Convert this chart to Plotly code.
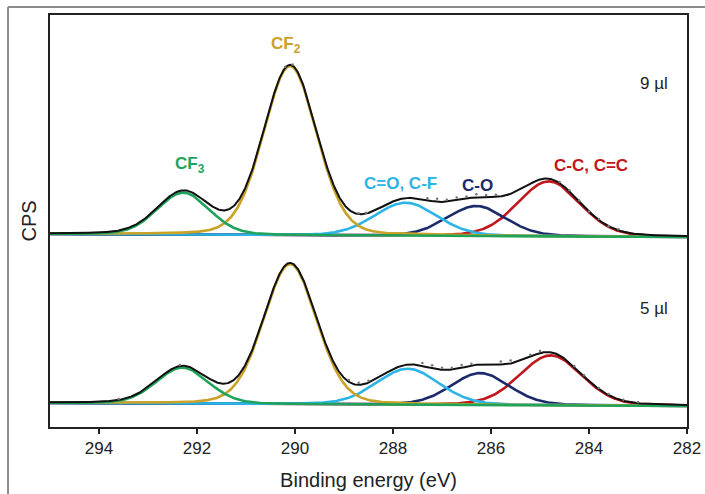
import numpy as np
import plotly.graph_objects as go

# ---------------- data ----------------
components = ["CF3", "CF2", "C=O, C-F", "C-O", "C-C, C=C"]
comp_colors = ["#1fa35a", "#c9a227", "#2cb4e6", "#1b2a6b", "#c2161d"]
label_texts = ["CF<sub>3</sub>", "CF<sub>2</sub>", "C=O, C-F", "C-O", "C-C, C=C"]

# peak centres (eV), heights (a.u.), FWHM (eV), Lorentzian fraction
top_centers = [292.28, 290.10, 287.74, 286.30, 284.82]
top_heights = [42, 169, 33, 30, 55]
bot_centers = [292.30, 290.10, 287.70, 286.22, 284.78]
bot_heights = [36, 140, 36, 32, 50]
fwhm = [1.25, 1.28, 1.50, 1.40, 1.50]
lor_frac = [0.15, 0.15, 0.15, 0.15, 0.15]

# background level at 295 eV and at 282 eV
top_bg = [193, 190]
bot_bg = [24, 21]

# raw data points shown as residuals relative to the fit (energy, offset)
raw_top_e = [290.2, 290.05, 288.7, 288.55, 287.3, 287.1, 286.9, 286.7, 286.5, 286.3, 286.1, 285.9,
             284.6, 284.4, 284.2, 284.0, 283.8, 283.6, 283.4]
raw_top_off = [1, 1, 1, 1, 2, 3, 2, 3, 2, 3, 2, 2, 1, 1, 1, 0, 1, 0, 1]
raw_bot_e = [293.6, 292.35, 288.9, 288.7, 288.5, 287.4, 287.2, 287.0, 286.8, 286.6, 286.4, 285.8,
             285.6, 285.2, 285.0, 284.3, 284.1, 283.8, 283.6, 283.3, 283.0]
raw_bot_off = [1, 1, 2, 2, 2, 3, 3, 2, 2, 3, 2, 3, 3, 2, 2, 1, 1, 1, 1, 1, 1]

sample_labels = ["9 µl", "5 µl"]
x_ticks = [294, 292, 290, 288, 286, 284, 282]

# ---------------- build curves ----------------
E = np.linspace(282, 295, 1301)


def peak(e, c, h, w, m):
    d2 = 4 * (e - c) ** 2 / w ** 2
    return h * ((1 - m) * np.exp(-np.log(2) * d2) + m / (1 + d2))


def background(e, bg):
    return bg[1] + (bg[0] - bg[1]) * (e - 282) / 13.0


fig = go.Figure()

draw_order = [4, 3, 2, 1, 0]
for centers, heights, bg, re, ro in [
    (top_centers, top_heights, top_bg, raw_top_e, raw_top_off),
    (bot_centers, bot_heights, bot_bg, raw_bot_e, raw_bot_off),
]:
    base = background(E, bg)
    comps = [peak(E, centers[i], heights[i], fwhm[i], lor_frac[i]) for i in range(5)]
    for i in draw_order:
        fig.add_trace(go.Scatter(x=E, y=base + comps[i], mode="lines",
                                 line=dict(color=comp_colors[i], width=2.6),
                                 hoverinfo="skip", showlegend=False))
    env = base + sum(comps)
    fig.add_trace(go.Scatter(x=E, y=env, mode="lines",
                             line=dict(color="#111111", width=2),
                             hoverinfo="skip", showlegend=False))
    re_arr = np.array(re)
    raw_y = background(re_arr, bg) + sum(
        peak(re_arr, centers[i], heights[i], fwhm[i], lor_frac[i]) for i in range(5)) + np.array(ro)
    fig.add_trace(go.Scatter(x=re_arr, y=raw_y, mode="markers",
                             marker=dict(color="#777777", size=2.5),
                             hoverinfo="skip", showlegend=False))

# ---------------- labels ----------------
label_pos = [(292.14, 262), (290.19, 382), (287.84, 244), (286.27, 242), (283.96, 262)]
for txt, col, (lx, ly) in zip(label_texts, comp_colors, label_pos):
    fig.add_annotation(x=lx, y=ly, text="<b>" + txt + "</b>", showarrow=False,
                       font=dict(family="Liberation Sans, Arial", size=17, color=col))

fig.add_annotation(x=282.67, y=344, text=sample_labels[0], showarrow=False,
                   font=dict(family="Liberation Sans, Arial", size=17, color="#222222"))
fig.add_annotation(x=282.67, y=119, text=sample_labels[1], showarrow=False,
                   font=dict(family="Liberation Sans, Arial", size=17, color="#222222"))

# outer grey frame of the original figure
fig.add_shape(type="line", xref="paper", yref="paper", x0=-0.0659, x1=-0.0659, y0=-0.3, y1=1.0194,
              line=dict(color="#8c8c8c", width=2))
fig.add_shape(type="line", xref="paper", yref="paper", x0=-0.0659, x1=1.1, y0=1.0194, y1=1.0194,
              line=dict(color="#8c8c8c", width=2))

fig.update_layout(
    width=705, height=494,
    margin=dict(l=50, r=18, t=15, b=67),
    paper_bgcolor="white", plot_bgcolor="white",
    font=dict(family="Liberation Sans, Arial", color="#222222"),
    xaxis=dict(range=[295, 282], tickvals=x_ticks, ticks="outside", ticklen=5, tickwidth=1.5,
               tickcolor="#222222", showline=True, linecolor="#222222", linewidth=2, mirror=True,
               showgrid=False, zeroline=False, tickfont=dict(size=17), automargin=False,
               title=dict(text="Binding energy (eV)", font=dict(size=20), standoff=16)),
    yaxis=dict(range=[0, 412], showticklabels=False, ticks="", showline=True, automargin=False,
               linecolor="#222222", linewidth=2, mirror=True, showgrid=False, zeroline=False,
               title=dict(text="CPS", font=dict(size=20), standoff=6)),
)

fig.write_html("out.html")
